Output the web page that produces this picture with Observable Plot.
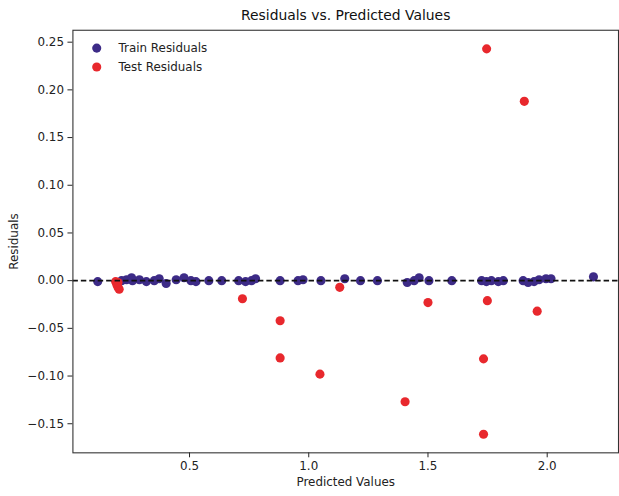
<!DOCTYPE html>
<html>
<head>
<meta charset="utf-8">
<script src="https://cdn.jsdelivr.net/npm/d3@7"></script>
<script src="https://cdn.jsdelivr.net/npm/@observablehq/plot@0.6"></script>
<style>
  html, body { margin: 0; padding: 0; background: #fff; overflow: hidden; }
  #chart { width: 619px; height: 496px; overflow: hidden; }
</style>
</head>
<body>
<div id="chart"></div>
<script>
// ---- data ----
const title = "Residuals vs. Predicted Values";
const xLabel = "Predicted Values";
const yLabel = "Residuals";
const seriesNames = ["Train Residuals", "Test Residuals"];
const seriesColors = ["#3d2b87", "#e8282d"];

const trainX = [0.115, 0.215, 0.236, 0.257, 0.261, 0.290, 0.319, 0.352, 0.373, 0.402,
  0.444, 0.477, 0.506, 0.527, 0.581, 0.635, 0.706, 0.735, 0.760, 0.777,
  0.880, 0.955, 0.976, 1.051, 1.151, 1.217, 1.288, 1.413, 1.442, 1.463,
  1.504, 1.600, 1.725, 1.745, 1.766, 1.795, 1.816, 1.899, 1.920, 1.945,
  1.966, 1.995, 2.016, 2.194];
const trainY = [-0.001, 0.000, 0.001, 0.003, 0.000, 0.001, -0.001, 0.000, 0.002, -0.003,
  0.001, 0.003, 0.000, -0.001, 0.000, 0.000, 0.000, -0.001, 0.000, 0.002,
  0.000, 0.000, 0.001, 0.000, 0.002, 0.000, 0.000, -0.002, 0.000, 0.003,
  0.000, 0.000, 0.000, -0.001, 0.000, -0.001, 0.000, 0.000, -0.002, -0.001,
  0.001, 0.002, 0.002, 0.004];

const testX = [0.190, 0.195, 0.200, 0.205, 0.200, 0.722, 0.880, 1.130, 0.880, 1.047,
  1.404, 1.500, 1.733, 1.749, 1.958, 1.733, 1.746, 1.904];
const testY = [-0.001, -0.004, -0.007, -0.009, -0.002, -0.019, -0.042, -0.007, -0.081, -0.098,
  -0.127, -0.023, -0.082, -0.021, -0.032, -0.161, 0.243, 0.188];

const xTicks = [0.5, 1.0, 1.5, 2.0];
const yTicks = [-0.15, -0.10, -0.05, 0.00, 0.05, 0.10, 0.15, 0.20, 0.25];
const xDomain = [0.011, 2.299];
const yDomain = [-0.1805, 0.2625];

const train = trainX.map((x, i) => ({x, y: trainY[i]}));
const test = testX.map((x, i) => ({x, y: testY[i]}));

const font = "DejaVu Sans, sans-serif";

const chart = Plot.plot({
  width: 624,
  height: 496,
  marginLeft: 73,
  marginRight: 1,
  marginTop: 30,
  marginBottom: 40,
  style: {fontFamily: font, fontSize: "12px", color: "#222", background: "#fff"},
  x: {domain: xDomain, ticks: xTicks, tickFormat: d3.format(".1f"), label: null, tickSize: 5, tickPadding: 4},
  y: {domain: yDomain, ticks: yTicks, tickFormat: d3.format(".2f"), label: null, tickSize: 5, tickPadding: 4},
  marks: [
    Plot.dot(train, {x: "x", y: "y", r: 4.6, fill: seriesColors[0], stroke: "none"}),
    Plot.dot(test, {x: "x", y: "y", r: 4.6, fill: seriesColors[1], stroke: "none"}),
    Plot.ruleY([0], {stroke: "#111", strokeWidth: 1.6, strokeDasharray: "5.5,3"}),
    Plot.frame({stroke: "#333", strokeWidth: 1.1}),
    // title
    Plot.text([title], {frameAnchor: "top", dy: -15, lineAnchor: "middle", textAnchor: "middle", fontSize: 14, fill: "#111", text: d => d}),
    // axis labels
    Plot.text([xLabel], {frameAnchor: "bottom", dy: 30, lineAnchor: "middle", textAnchor: "middle", fontSize: 12, fill: "#222", text: d => d}),
    Plot.text([yLabel], {frameAnchor: "left", dx: -59, rotate: -90, lineAnchor: "middle", textAnchor: "middle", fontSize: 12, fill: "#222", text: d => d}),
    // legend
    Plot.dot([seriesNames[0]], {frameAnchor: "top-left", dx: 24, dy: 18, r: 4.6, fill: seriesColors[0]}),
    Plot.dot([seriesNames[1]], {frameAnchor: "top-left", dx: 24, dy: 37, r: 4.6, fill: seriesColors[1]}),
    Plot.text([seriesNames[0]], {frameAnchor: "top-left", dx: 46, dy: 18, lineAnchor: "middle", textAnchor: "start", fontSize: 12, fill: "#222", text: d => d}),
    Plot.text([seriesNames[1]], {frameAnchor: "top-left", dx: 46, dy: 37, lineAnchor: "middle", textAnchor: "start", fontSize: 12, fill: "#222", text: d => d})
  ]
});
document.getElementById("chart").appendChild(chart);
</script>
</body>
</html>
